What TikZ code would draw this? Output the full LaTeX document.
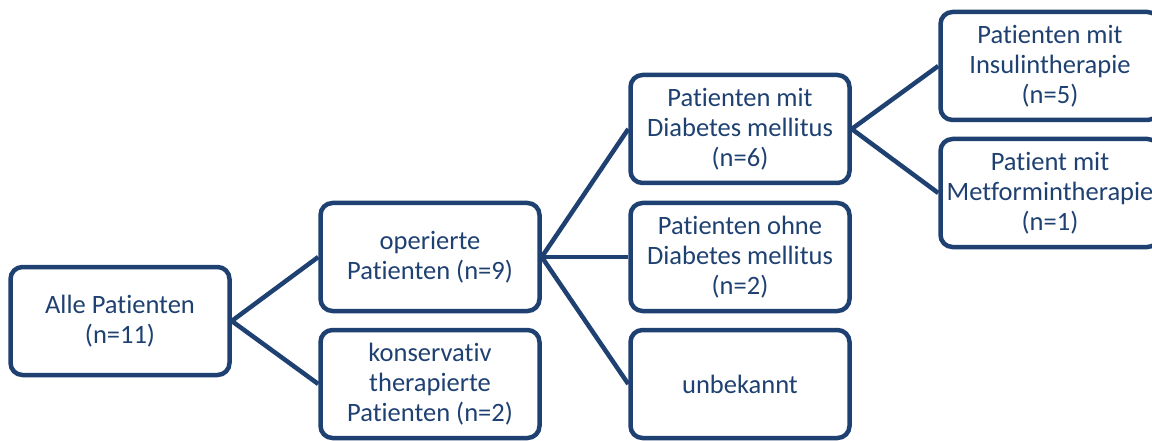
\documentclass[tikz,border=0pt]{standalone}
\usepackage{fontspec}
\setmainfont{Carlito}[Ligatures={NoCommon}]
\definecolor{navy}{RGB}{31,65,114}
\begin{document}
\begin{tikzpicture}[x=1pt,y=-1pt,
  box/.style={draw=navy,line width=4.5pt,rounded corners=12pt,fill=white,
    minimum width=219pt,minimum height=108pt,align=center,text=navy,
    font=\fontsize{26.5}{30}\selectfont,inner sep=0pt},
  link/.style={draw=navy,line width=4.5pt}]
\clip (0,0) rectangle (1152,441);
\fill[white] (0,0) rectangle (1152,441);
\node[box] (alle) at (120,321) {Alle Patienten\\(n=11)};
\node[box] (op) at (430,257) {operierte\\Patienten (n=9)};
\node[box] (kons) at (430,384) {konservativ\\therapierte\\Patienten (n=2)};
\node[box] (dm) at (740,129) {Patienten mit\\Diabetes mellitus\\(n=6)};
\node[box] (ohne) at (740,257) {Patienten ohne\\Diabetes mellitus\\(n=2)};
\node[box] (unb) at (740,384) {unbekannt};
\node[box] (ins) at (1050,66) {Patienten mit\\Insulintherapie\\(n=5)};
\node[box] (met) at (1050,193) {Patient mit\\Metformintherapie\\(n=1)};
\draw[link] (alle.east) -- (op.west);
\draw[link] (alle.east) -- (kons.west);
\draw[link] (op.east) -- (dm.west);
\draw[link] (op.east) -- (ohne.west);
\draw[link] (op.east) -- (unb.west);
\draw[link] (dm.east) -- (ins.west);
\draw[link] (dm.east) -- (met.west);
\end{tikzpicture}
\end{document}
